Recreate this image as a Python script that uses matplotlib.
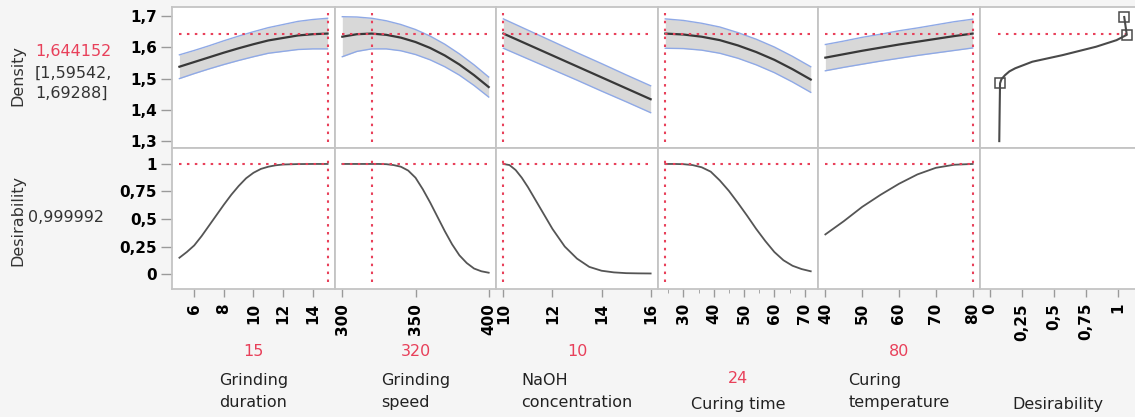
import matplotlib.pyplot as plt

W, H = 1135, 417

# ---- data read from the profiler ----
factor_names = ['Grinding\nduration', 'Grinding\nspeed', 'NaOH\nconcentration',
                'Curing time', 'Curing\ntemperature']
settings = [15, 320, 10, 24, 80]
pred = 1.644152
pred_txt = '1,644152'
ci_txt = '[1,59542,\n1,69288]'
desir_txt = '0,999992'

# Grinding duration
gd_x = [5, 6, 7, 8, 9, 10, 11, 12, 13, 14, 15]
gd_mean = [1.538, 1.553, 1.568, 1.583, 1.597, 1.610, 1.622, 1.630, 1.638, 1.642, 1.644]
gd_lo = [1.500, 1.516, 1.531, 1.545, 1.558, 1.570, 1.581, 1.587, 1.593, 1.595, 1.595]
gd_hi = [1.576, 1.590, 1.605, 1.621, 1.636, 1.650, 1.663, 1.673, 1.683, 1.689, 1.693]
gd_dx = [5, 5.5, 6, 6.5, 7, 7.5, 8, 8.5, 9, 9.5, 10, 10.5, 11, 11.5, 12, 13, 14, 15]
gd_d = [0.148, 0.20, 0.26, 0.345, 0.44, 0.535, 0.63, 0.72, 0.80, 0.87, 0.92, 0.955,
        0.975, 0.988, 0.995, 0.999, 1.0, 1.0]

# Grinding speed
gs_x = [300, 310, 320, 330, 340, 350, 360, 370, 380, 390, 400]
gs_mean = [1.634, 1.642, 1.644, 1.640, 1.631, 1.617, 1.598, 1.574, 1.545, 1.511, 1.473]
gs_lo = [1.570, 1.587, 1.595, 1.595, 1.589, 1.577, 1.560, 1.538, 1.511, 1.478, 1.441]
gs_hi = [1.698, 1.697, 1.693, 1.685, 1.673, 1.657, 1.636, 1.610, 1.579, 1.544, 1.505]
gs_dx = [300, 305, 310, 315, 320, 325, 330, 335, 340, 345, 350, 355, 360, 365, 370,
         375, 380, 385, 390, 395, 400]
gs_d = [1.0, 1.0, 1.0, 1.0, 1.0, 1.0, 0.998, 0.99, 0.975, 0.94, 0.875, 0.77, 0.65,
        0.52, 0.39, 0.27, 0.17, 0.10, 0.05, 0.025, 0.012]

# NaOH concentration
na_x = [10, 11, 12, 13, 14, 15, 16]
na_mean = [1.644, 1.609, 1.574, 1.539, 1.504, 1.469, 1.434]
na_lo = [1.597, 1.563, 1.529, 1.495, 1.460, 1.426, 1.391]
na_hi = [1.691, 1.655, 1.619, 1.583, 1.548, 1.512, 1.477]
na_dx = [10, 10.25, 10.5, 10.75, 11, 11.5, 12, 12.5, 13, 13.5, 14, 14.5, 15, 15.5, 16]
na_d = [1.0, 0.99, 0.945, 0.875, 0.79, 0.60, 0.41, 0.25, 0.14, 0.065, 0.03, 0.015,
        0.008, 0.006, 0.005]

# Curing time
ct_x = [24, 30, 36, 42, 48, 54, 60, 66, 72]
ct_mean = [1.644, 1.641, 1.634, 1.623, 1.606, 1.585, 1.560, 1.530, 1.497]
ct_lo = [1.597, 1.596, 1.591, 1.581, 1.565, 1.544, 1.519, 1.489, 1.456]
ct_hi = [1.691, 1.686, 1.677, 1.665, 1.647, 1.626, 1.601, 1.571, 1.538]
ct_dx = [24, 27, 30, 33, 36, 39, 42, 45, 48, 51, 54, 57, 60, 63, 66, 69, 72]
ct_d = [1.0, 1.0, 0.998, 0.99, 0.97, 0.93, 0.85, 0.755, 0.645, 0.53, 0.41, 0.30,
        0.20, 0.125, 0.075, 0.045, 0.025]

# Curing temperature
tp_x = [40, 45, 50, 55, 60, 65, 70, 75, 80]
tp_mean = [1.567, 1.578, 1.589, 1.599, 1.609, 1.618, 1.627, 1.636, 1.644]
tp_lo = [1.525, 1.536, 1.546, 1.556, 1.565, 1.574, 1.582, 1.590, 1.598]
tp_hi = [1.609, 1.620, 1.632, 1.642, 1.653, 1.662, 1.672, 1.682, 1.690]
tp_d = [0.36, 0.48, 0.61, 0.72, 0.82, 0.905, 0.965, 0.993, 1.0]

# desirability function (desirability vs density)
df_d = [0.071, 0.074, 0.077, 0.088, 0.116, 0.15, 0.196, 0.33, 0.566, 0.83, 0.99, 1.07, 1.05]
df_y = [1.300, 1.400, 1.485, 1.498, 1.511, 1.523, 1.533, 1.554, 1.575, 1.602, 1.623,
        1.640, 1.697]
df_handles = [2, 11, 12]

gd_ticks = [6, 8, 10, 12, 14]
gs_ticks = [300, 350, 400]
na_ticks = [10, 12, 14, 16]
ct_ticks = [30, 40, 50, 60, 70]
ct_minor = [25, 35, 45, 55, 65]
tp_ticks = [40, 50, 60, 70, 80]
dens_ticks = [1.3, 1.4, 1.5, 1.6, 1.7]
dens_labels = ['1,3', '1,4', '1,5', '1,6', '1,7']
d_ticks = [0, 0.25, 0.5, 0.75, 1]
d_labels = ['0', '0,25', '0,5', '0,75', '1']

panels = [
    (gd_x, gd_mean, gd_lo, gd_hi, gd_dx, gd_d, gd_ticks, None),
    (gs_x, gs_mean, gs_lo, gs_hi, gs_dx, gs_d, gs_ticks, None),
    (na_x, na_mean, na_lo, na_hi, na_dx, na_d, na_ticks, None),
    (ct_x, ct_mean, ct_lo, ct_hi, ct_dx, ct_d, ct_ticks, ct_minor),
    (tp_x, tp_mean, tp_lo, tp_hi, tp_x, tp_d, tp_ticks, None),
]

# ---- styling ----
RED = '#e8405a'
GRID = '#c4c4c4'
BG = '#f5f5f5'
dot = (0, (1.2, 2.6))

cols = [172, 335, 496, 658, 818, 980, 1137]
rows = [7, 148, 289]
dens_lim = (1.278, 1.729)
d_lim = (-0.136, 1.145)


def box(c, r):
    x0, x1 = cols[c], cols[c + 1]
    y0, y1 = rows[r], rows[r + 1]
    return [x0 / W, 1 - y1 / H, (x1 - x0) / W, (y1 - y0) / H]


def style(ax):
    ax.set_facecolor('white')
    for s in ax.spines.values():
        s.set_color(GRID)
        s.set_linewidth(1.3)
    ax.tick_params(colors='#9a9a9a', labelcolor='black', length=6, width=1)


fig = plt.figure(figsize=(W / 100, H / 100), dpi=100, facecolor=BG)
tickfont = dict(family='DejaVu Sans', weight='bold', size=11)

for i, (x, m, lo, hi, dx, d, ticks, minor) in enumerate(panels):
    pad = (x[-1] - x[0]) * 0.05
    xl = (x[0] - pad, x[-1] + pad)

    top = fig.add_axes(box(i, 0))
    style(top)
    top.fill_between(x, lo, hi, color='#d8d8d8', lw=0)
    top.plot(x, lo, color='#8fa9e6', lw=1)
    top.plot(x, hi, color='#8fa9e6', lw=1)
    top.plot(x, m, color='#383838', lw=1.6)
    top.hlines(pred, x[0], x[-1], color=RED, lw=1.5, ls=dot)
    top.vlines(settings[i], 1.297, 1.71, color=RED, lw=1.5, ls=dot)
    top.set_xlim(xl)
    top.set_ylim(dens_lim)
    top.set_xticks([])

    bot = fig.add_axes(box(i, 1))
    style(bot)
    bot.plot(dx, d, color='#555555', lw=1.3)
    bot.hlines(1, x[0], x[-1], color=RED, lw=1.5, ls=dot)
    bot.vlines(settings[i], -0.07, 1.065, color=RED, lw=1.5, ls=dot)
    bot.set_xlim(xl)
    bot.set_ylim(d_lim)
    bot.set_xticks(ticks)
    bot.set_xticklabels([str(t) for t in ticks], rotation=90, **tickfont)
    if minor:
        bot.set_xticks(minor, minor=True)
        bot.tick_params(axis='x', which='minor', length=3, color='#9a9a9a')
    bot.tick_params(axis='x', pad=4)

    if i == 0:
        top.set_yticks(dens_ticks)
        top.set_yticklabels(dens_labels, **tickfont)
        bot.set_yticks(d_ticks)
        bot.set_yticklabels(d_labels, **tickfont)
        top.tick_params(axis='y', length=8, pad=3)
        bot.tick_params(axis='y', length=8, pad=3)
    else:
        top.set_yticks([])
        bot.set_yticks([])

# desirability column
top = fig.add_axes(box(5, 0))
style(top)
top.spines['right'].set_visible(False)
top.hlines(pred, df_d[0] - 0.01, df_d[-2], color=RED, lw=1.5, ls=dot)
top.plot(df_d, df_y, color='#4a4a4a', lw=1.5)
top.plot([df_d[k] for k in df_handles], [df_y[k] for k in df_handles], 's',
         ms=6.5, mfc='none', mec='#4a4a4a', mew=1.1)
top.set_xlim(-0.08, 1.15)
top.set_ylim(dens_lim)
top.set_xticks([])
top.set_yticks([])

bot = fig.add_axes(box(5, 1))
style(bot)
bot.spines['right'].set_visible(False)
bot.set_xlim(-0.08, 1.15)
bot.set_ylim(d_lim)
bot.set_yticks([])
bot.set_xticks(d_ticks)
bot.set_xticklabels(d_labels, rotation=90, **tickfont)
bot.tick_params(axis='x', pad=4)

# left labels
lab = dict(family='DejaVu Sans', size=11.5)
fig.text(18 / W, 1 - 76 / H, 'Density', rotation=90, ha='center', va='center',
         color='#333333', **lab)
fig.text(35 / W, 1 - 52 / H, pred_txt, ha='left', va='center', color=RED, **lab)
fig.text(35 / W, 1 - 83 / H, ci_txt, ha='left', va='center', color='#333333',
         linespacing=1.45, **lab)
fig.text(18 / W, 1 - 220 / H, 'Desirability', rotation=90, ha='center', va='center',
         color='#333333', **lab)
fig.text(28 / W, 1 - 218 / H, desir_txt, ha='left', va='center', color='#333333', **lab)

# bottom factor labels
names = factor_names + ['Desirability']
for i, name in enumerate(names):
    cx = (cols[i] + min(cols[i + 1], W)) / 2 / W
    n = name.count('\n') + 1
    fig.text(cx, 1 - (405 - 13.25 * (n - 1)) / H, name, ha='center', va='center',
             multialignment='left', linespacing=1.6, color='#222222', **lab)
    if i < len(settings):
        fig.text(cx, 1 - (405 - 26.5 * n) / H, str(settings[i]), ha='center',
                 va='center', color=RED, **lab)

fig.savefig('out.png', dpi=100, facecolor=BG)
